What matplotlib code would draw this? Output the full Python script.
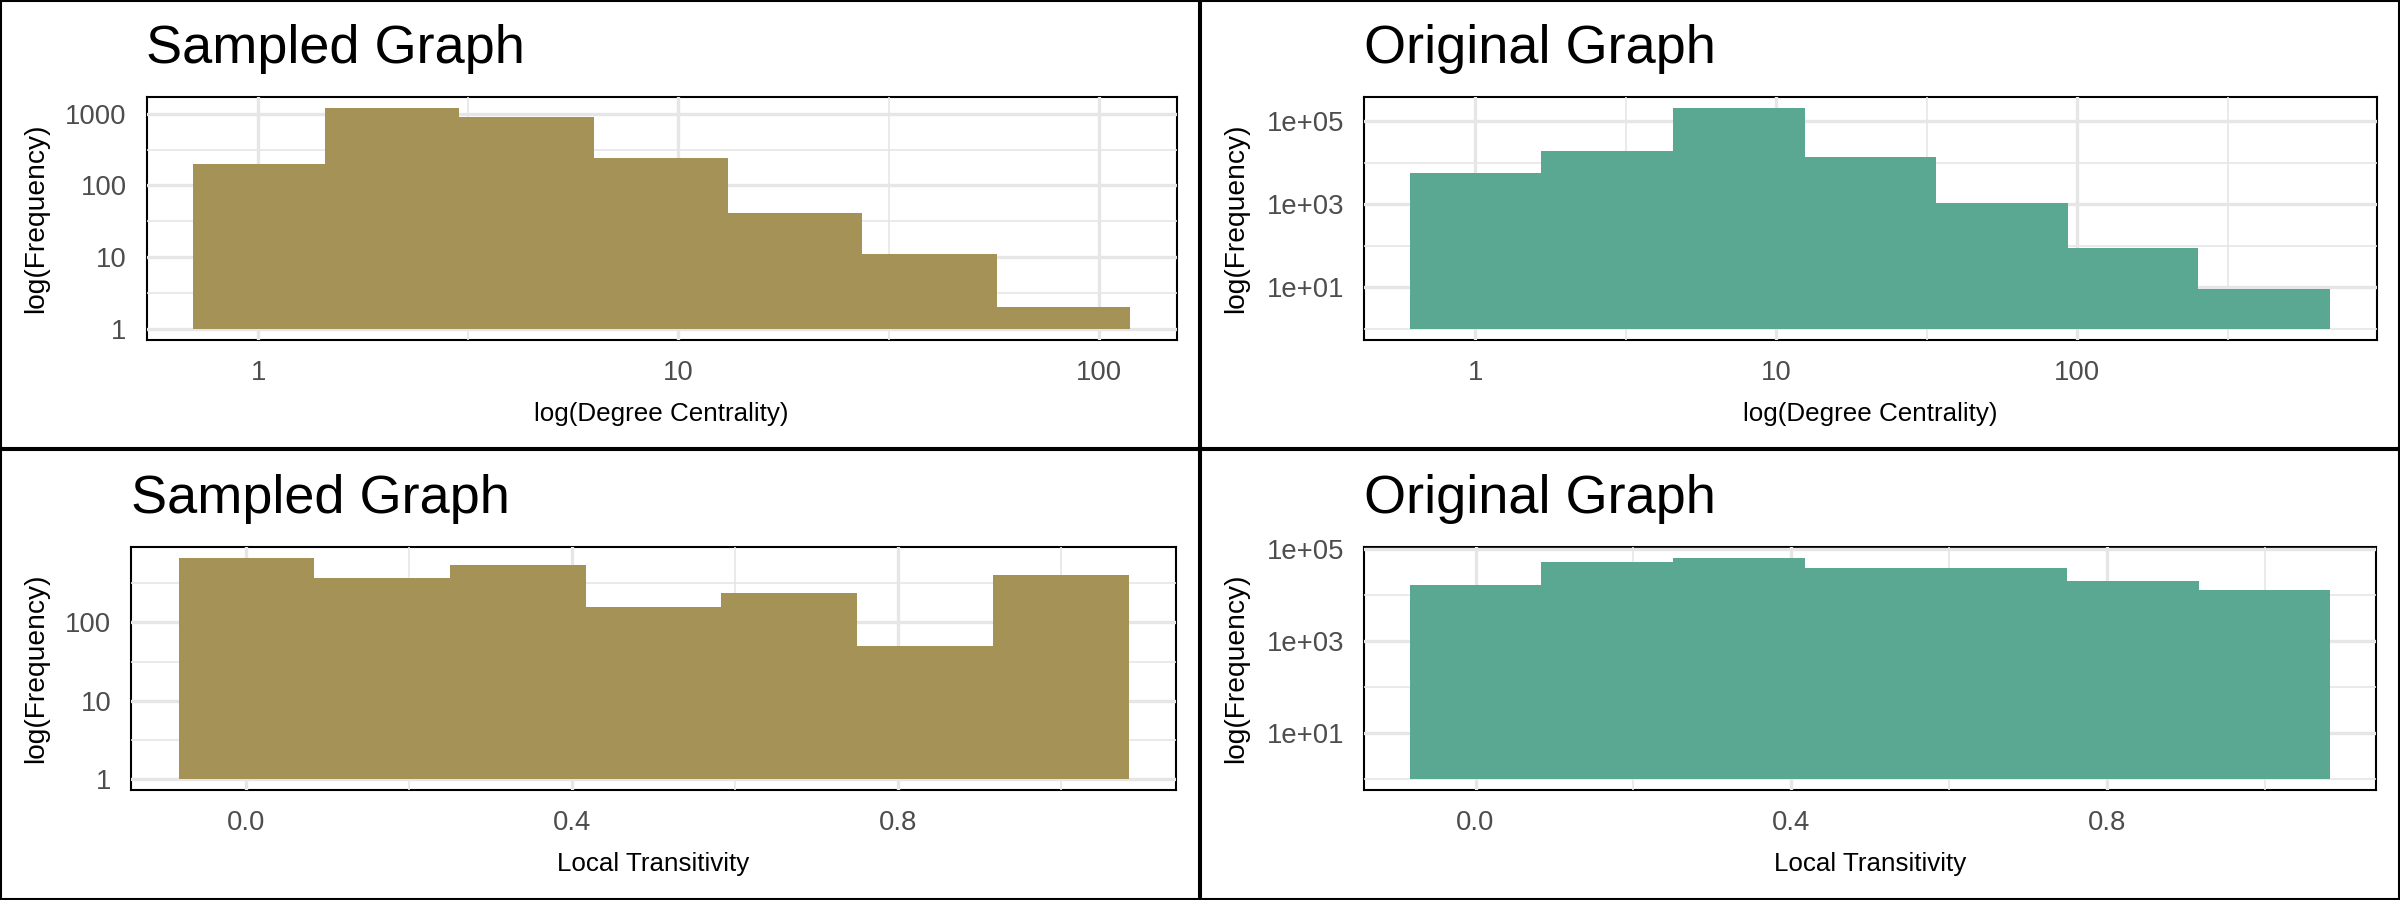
import numpy as np
import matplotlib
matplotlib.use('Agg')
import matplotlib.pyplot as plt
from matplotlib.patches import Rectangle
from matplotlib.ticker import NullFormatter
from matplotlib.transforms import blended_transform_factory

plt.rcParams['font.family'] = ['Liberation Sans', 'DejaVu Sans']

# degree centrality histograms (log spaced bins, edges)
sampled_degree_edges = [0.70, 1.44, 3.01, 6.28, 13.1, 27.4, 57.2, 118.6]
sampled_degree_counts = [201, 1212, 908, 244, 42, 11, 2]
original_degree_edges = [0.605, 1.65, 4.53, 12.4, 33.9, 92.9, 252, 693]
original_degree_counts = [5810, 19700, 213800, 14120, 1102, 91, 9]

# local transitivity histograms
transitivity_edges = [-0.083, 0.083, 0.25, 0.417, 0.583, 0.75, 0.917, 1.083]
sampled_trans_counts = [670, 364, 548, 159, 239, 50, 406]
original_trans_counts = [16750, 52950, 64700, 39500, 39000, 20470, 13030]

# axis ticks
degree_ticks = [1, 10, 100]
degree_labels = ['1', '10', '100']
degree_minor = [10 ** 0.5, 10 ** 1.5, 10 ** 2.5]
trans_ticks = [0.0, 0.4, 0.8]
trans_labels = ['0.0', '0.4', '0.8']
trans_minor = [0.2, 0.6, 1.0]
sampled_freq_ticks = [1, 10, 100, 1000]
sampled_freq_labels = ['1', '10', '100', '1000']
sampled_freq_minor = [10 ** 0.5, 10 ** 1.5, 10 ** 2.5]
original_freq_ticks = [10, 1000, 100000]
original_freq_labels = ['1e+01', '1e+03', '1e+05']
original_freq_minor = [1, 100, 10000]

SAMPLED_COLOR = '#A59257'
ORIGINAL_COLOR = '#5AA892'
GRID = '#E6E6E6'

W, H = 2400, 900
fig = plt.figure(figsize=(16, 6), dpi=150)


def expand(lo, hi, log=False):
    # ggplot style 5% expansion
    if log:
        lo, hi = np.log10(lo), np.log10(hi)
    pad = 0.05 * (hi - lo)
    lo, hi = lo - pad, hi + pad
    if log:
        return 10 ** lo, 10 ** hi
    return lo, hi


def panel(rect_px, cell_left, title, edges, counts, color, xlog, xlabel,
          xticks, xlabels, xminor, yticks, ylabels, yminor):
    l, t, r, b = rect_px
    ax = fig.add_axes([l / W, 1 - b / H, (r - l) / W, (b - t) / H])
    if xlog:
        ax.set_xscale('log')
    ax.set_yscale('log')
    ax.stairs(counts, edges, baseline=1, fill=True, color=color, lw=0)

    ax.set_xticks(xticks, xlabels)
    ax.set_xticks(xminor, minor=True)
    ax.set_yticks(yticks, ylabels)
    ax.set_yticks(yminor, minor=True)
    ax.xaxis.set_minor_formatter(NullFormatter())
    ax.yaxis.set_minor_formatter(NullFormatter())
    # limits after ticks, otherwise out-of-range ticks widen the view
    ax.set_xlim(*expand(edges[0], edges[-1], log=xlog))
    ax.set_ylim(*expand(1, max(counts), log=True))

    ax.set_axisbelow(True)
    ax.grid(which='major', color=GRID, lw=1.6)
    ax.grid(which='minor', color=GRID, lw=0.8)
    for sp in ax.spines.values():
        sp.set_zorder(0.4)
        sp.set_linewidth(1.0)
        sp.set_color('black')

    ax.tick_params(which='both', length=0, labelsize=13.2,
                   labelcolor='#4D4D4D', pad=9.5)
    ax.set_title(title, loc='left', fontsize=26, pad=16)
    ax.set_xlabel(xlabel, fontsize=12.5, labelpad=8)
    ax.set_ylabel('log(Frequency)', fontsize=13.5)
    tr = blended_transform_factory(fig.transFigure, ax.transAxes)
    ax.yaxis.set_label_coords((cell_left + 49) / W, 0.5, transform=tr)
    return ax


panel((146.5, 96.7, 1176.5, 340), 0, 'Sampled Graph',
      sampled_degree_edges, sampled_degree_counts, SAMPLED_COLOR, True,
      'log(Degree Centrality)', degree_ticks, degree_labels, degree_minor,
      sampled_freq_ticks, sampled_freq_labels, sampled_freq_minor)
panel((1363.7, 96.7, 2376.5, 340), 1200, 'Original Graph',
      original_degree_edges, original_degree_counts, ORIGINAL_COLOR, True,
      'log(Degree Centrality)', degree_ticks, degree_labels, degree_minor,
      original_freq_ticks, original_freq_labels, original_freq_minor)
panel((131, 546.7, 1176.2, 790), 0, 'Sampled Graph',
      transitivity_edges, sampled_trans_counts, SAMPLED_COLOR, False,
      'Local Transitivity', trans_ticks, trans_labels, trans_minor,
      sampled_freq_ticks[:3], sampled_freq_labels[:3], sampled_freq_minor)
panel((1364, 546.7, 2376.2, 790), 1200, 'Original Graph',
      transitivity_edges, original_trans_counts, ORIGINAL_COLOR, False,
      'Local Transitivity', trans_ticks, trans_labels, trans_minor,
      original_freq_ticks, original_freq_labels, original_freq_minor)

# black frame around each of the four plots
for x0, y0, x1, y1 in [(0, 0, 1200, 449), (1200, 0, 2400, 449),
                       (0, 449, 1200, 900), (1200, 449, 2400, 900)]:
    fig.add_artist(Rectangle(((x0 + 1) / W, 1 - (y1 - 1) / H),
                             (x1 - x0 - 2) / W, (y1 - y0 - 2) / H,
                             transform=fig.transFigure, fill=False,
                             ec='black', lw=1.0))

fig.savefig('out.png', dpi=150, facecolor='white')
